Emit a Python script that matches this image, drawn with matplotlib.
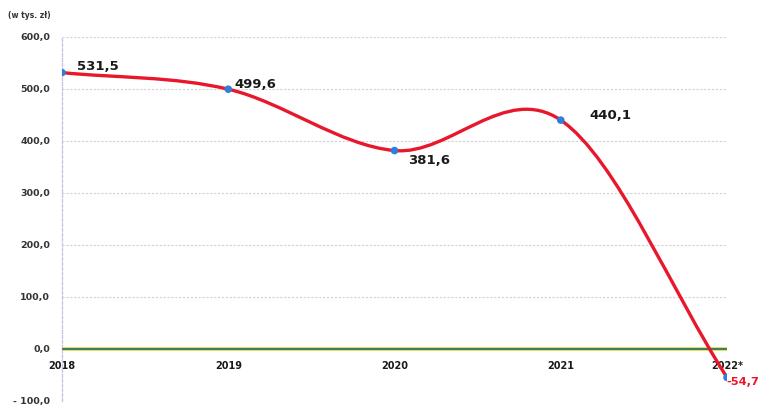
import matplotlib

matplotlib.use("Agg")
import matplotlib.pyplot as plt
from matplotlib.path import Path
from matplotlib.patches import PathPatch

years = ["2018", "2019", "2020", "2021", "2022*"]
values = [531.5, 499.6, 381.6, 440.1, -54.7]
labels = ["531,5", "499,6", "381,6", "440,1", "-54,7"]
y_ticks = [-100, 0, 100, 200, 300, 400, 500, 600]
y_tick_labels = ["- 100,0", "0,0", "100,0", "200,0", "300,0", "400,0", "500,0", "600,0"]
unit_label = "(w tys. zł)"

LINE = "#e8182c"
MARK = "#2f7fd8"

fig = plt.figure(figsize=(7.6, 4.05), dpi=100)
ax = fig.add_axes([0.0816, 0.0099, 0.875, 0.8988])

xs = list(range(len(values)))
n = len(values)

# smoothed line like Excel: cubic bezier segments with catmull-rom tangents
tangents = []
for i in range(n):
    if i == 0:
        tangents.append(values[1] - values[0])
    elif i == n - 1:
        tangents.append(values[-1] - values[-2])
    else:
        tangents.append((values[i + 1] - values[i - 1]) / 2)

verts = [(xs[0], values[0])]
codes = [Path.MOVETO]
for i in range(n - 1):
    verts.append((xs[i] + 1 / 3, values[i] + tangents[i] / 3))
    verts.append((xs[i + 1] - 1 / 3, values[i + 1] - tangents[i + 1] / 3))
    verts.append((xs[i + 1], values[i + 1]))
    codes += [Path.CURVE4] * 3
ax.add_patch(PathPatch(Path(verts, codes), facecolor="none", edgecolor=LINE,
                       linewidth=2.4, zorder=4, capstyle="round"))

ax.axhline(0, color="#d8d84a", linewidth=2.6, zorder=2)
ax.axhline(0, color="#3f7a56", linewidth=1.4, zorder=3)

ax.scatter(xs, values, s=30, color=MARK, zorder=5, edgecolors="none")

# label offsets in points
offsets = [(10.5, 4.5), (4.3, 3.6), (10, -7.5), (20.5, 3.6), (-0.8, -3.6)]
sizes = [9.5, 9.5, 9.5, 9.5, 8.2]
for x, v, lab, off, fs in zip(xs, values, labels, offsets, sizes):
    color = LINE if v < 0 else "#1a1a1a"
    ax.annotate(lab, (x, v), xytext=off, textcoords="offset points",
                ha="left", va="center", fontsize=fs, fontweight="bold",
                color=color, annotation_clip=False)

ax.spines["bottom"].set_position(("data", 0))
ax.spines["bottom"].set_visible(False)
ax.spines["top"].set_visible(False)
ax.spines["right"].set_visible(False)
ax.spines["left"].set_color("#c9c6e6")
ax.spines["left"].set_linestyle((0, (2, 1.5)))
ax.spines["left"].set_linewidth(1.0)

ax.set_xlim(0, n - 1)
ax.set_ylim(-100, 600)
ax.set_yticks(y_ticks)
ax.set_yticklabels(y_tick_labels, fontsize=6.8, fontweight="bold", color="#333333")
ax.set_xticks(xs)
ax.set_xticklabels(years, fontsize=7, fontweight="bold", color="#1a1a1a")
ax.tick_params(axis="both", length=0)
ax.tick_params(axis="y", pad=8.5)
ax.tick_params(axis="x", pad=8.5)

for t in y_ticks:
    if t != 0:
        ax.axhline(t, color="#d2d2d2", linewidth=0.8, linestyle=(0, (2, 1.5)), zorder=1)

fig.text(0.011, 0.962, unit_label, fontsize=5.5, fontweight="bold", color="#333333",
         ha="left", va="center")

fig.savefig("out.png", dpi=100)
plt.close(fig)
